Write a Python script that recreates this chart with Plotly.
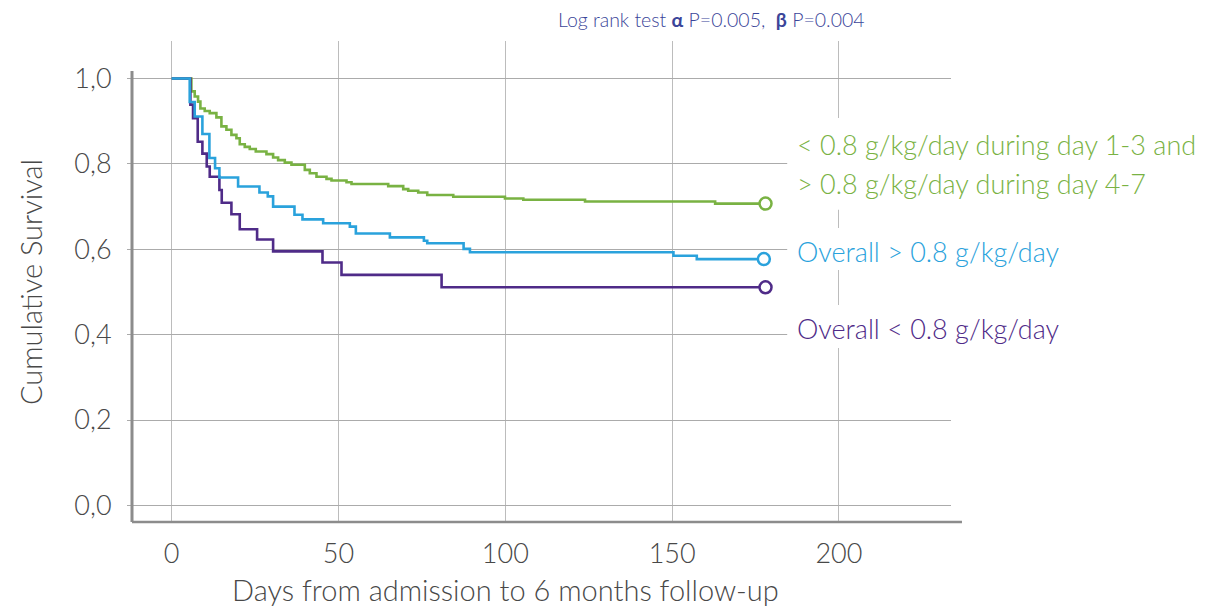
import plotly.graph_objects as go

# ---- data ----
green_days = [0, 5.9, 6.9, 7.9, 8.6, 9.9, 11.4, 13.4, 14.9, 16.4, 17.9, 19.4, 20.4, 21.9, 23.4, 25.2,
              28.4, 30.4, 31.9, 33.9, 35.9, 39.9, 41.4, 43.4, 46.4, 47.9, 52.4, 53.9, 64.9, 69.4,
              70.9, 73.9, 76.6, 84.4, 99.9, 105.4, 123.9, 162.9, 178.0]
green_surv = [1.0, 0.970, 0.958, 0.946, 0.930, 0.924, 0.919, 0.909, 0.888, 0.880, 0.868, 0.860,
              0.846, 0.840, 0.835, 0.829, 0.823, 0.815, 0.809, 0.803, 0.798, 0.786, 0.778, 0.770,
              0.765, 0.761, 0.757, 0.753, 0.748, 0.741, 0.737, 0.733, 0.727, 0.723, 0.719, 0.716,
              0.712, 0.707, 0.707]

blue_days = [0, 5.4, 6.9, 9.2, 11.3, 13.0, 14.3, 19.9, 26.3, 28.8, 30.4, 36.8, 39.2, 45.4, 53.4,
             55.2, 65.4, 75.6, 76.6, 87.5, 89.4, 150.4, 157.4, 177.5]
blue_surv = [1.0, 0.945, 0.911, 0.870, 0.814, 0.790, 0.768, 0.747, 0.733, 0.724, 0.700, 0.681,
             0.670, 0.661, 0.653, 0.637, 0.628, 0.620, 0.614, 0.601, 0.593, 0.585, 0.577, 0.577]

purple_days = [0, 5.6, 6.4, 7.8, 9.2, 10.5, 11.4, 14.3, 15.0, 17.9, 20.4, 25.6, 30.4, 45.2, 50.9,
               80.9, 178.0]
purple_surv = [1.0, 0.939, 0.907, 0.852, 0.824, 0.794, 0.770, 0.739, 0.709, 0.682, 0.647, 0.623,
               0.595, 0.569, 0.540, 0.511, 0.511]

x_ticks = [0, 50, 100, 150, 200]
y_ticks = [0.0, 0.2, 0.4, 0.6, 0.8, 1.0]
y_tick_text = ["0,0", "0,2", "0,4", "0,6", "0,8", "1,0"]

GREEN = "#79b243"
BLUE = "#2aa2dc"
PURPLE = "#4f2b88"
FONT = "Lato"
TXT = "#484848"

fig = go.Figure()
for days, surv, col in [(green_days, green_surv, GREEN),
                        (purple_days, purple_surv, PURPLE),
                        (blue_days, blue_surv, BLUE)]:
    fig.add_trace(go.Scatter(x=days, y=surv, mode="lines",
                             line=dict(shape="hv", color=col, width=2.6),
                             hoverinfo="skip"))
for days, surv, col in [(green_days, green_surv, GREEN),
                        (purple_days, purple_surv, PURPLE),
                        (blue_days, blue_surv, BLUE)]:
    fig.add_trace(go.Scatter(x=[days[-1]], y=[surv[-1]], mode="markers",
                             marker=dict(symbol="circle", size=12, color="white",
                                         line=dict(color=col, width=2.5)),
                             hoverinfo="skip"))

fig.update_layout(
    width=1230, height=606,
    margin=dict(l=132, r=279, t=41, b=84),
    plot_bgcolor="white", paper_bgcolor="white",
    showlegend=False,
    font=dict(family=FONT, color=TXT),
    xaxis=dict(range=[-11.9, 233.6], tickvals=x_ticks, showgrid=True,
               gridcolor="#bcbcbc", gridwidth=1, zeroline=False, showline=False,
               ticks="", tickfont=dict(size=27, color=TXT, family=FONT, weight=300),
               ticklabelstandoff=13),
    yaxis=dict(range=[-0.039, 1.088], tickvals=y_ticks, ticktext=y_tick_text,
               showgrid=True, gridcolor="#ababab", gridwidth=1, zeroline=False,
               showline=False, ticks="outside", ticklen=4, tickcolor="#ababab",
               tickfont=dict(size=27, color=TXT, family=FONT, weight=300),
               ticklabelstandoff=10),
)

# axis lines
fig.add_shape(type="line", xref="paper", yref="paper", x0=0, x1=0, y0=0, y1=0.9376,
              line=dict(color="#8c8c8c", width=3), layer="above")
fig.add_shape(type="line", xref="paper", yref="paper", x0=0, x1=1.0134, y0=0, y1=0,
              line=dict(color="#8c8c8c", width=2.5), layer="above")

# white boxes behind series labels (they hide the grid lines)
for y0, y1 in [(0.649, 0.840), (0.524, 0.611), (0.362, 0.451)]:
    fig.add_shape(type="rect", xref="paper", yref="paper", x0=0.800, x1=1.32, y0=y0, y1=y1,
                  fillcolor="white", line=dict(width=0), layer="above")

def ann(text, x, y, col, size, weight=400, **kw):
    fig.add_annotation(text=text, x=x, y=y, xref="paper", yref="paper", showarrow=False,
                       font=dict(family=FONT, size=size, color=col, weight=weight), **kw)

ann("&lt; 0.8 g/kg/day during day 1-3 and", 0.8095, (522 - 144) / 481, GREEN, 27, 300, xanchor="left", yanchor="middle")
ann("&gt; 0.8 g/kg/day during day 4-7", 0.8095, (522 - 183) / 481, GREEN, 27, 300, xanchor="left", yanchor="middle")
ann("Overall &gt; 0.8 g/kg/day", 0.8095, (522 - 252) / 481, BLUE, 27, 300, xanchor="left", yanchor="middle")
ann("Overall &lt; 0.8 g/kg/day", 0.8095, (522 - 328) / 481, PURPLE, 27, 300, xanchor="left", yanchor="middle")

ann("Log rank test <b>α</b> P=0.005,  <b>β</b> P=0.004", (711 - 132) / 819, (522 - 19) / 481,
    "#3b4599", 19.5, 300, xanchor="center", yanchor="middle")

# axis titles
fig.add_annotation(text="Days from admission to 6 months follow-up", x=100, xref="x",
                   y=(522 - 589) / 481, yref="paper", showarrow=False, xanchor="center",
                   yanchor="middle", font=dict(family=FONT, size=29, color=TXT, weight=300))
fig.add_annotation(text="Cumulative Survival", x=(30 - 132) / 819, xref="paper",
                   y=(522 - 282) / 481, yref="paper", showarrow=False, textangle=-90,
                   xanchor="center", yanchor="middle",
                   font=dict(family=FONT, size=29, color=TXT, weight=300))

fig.write_html("out.html")
